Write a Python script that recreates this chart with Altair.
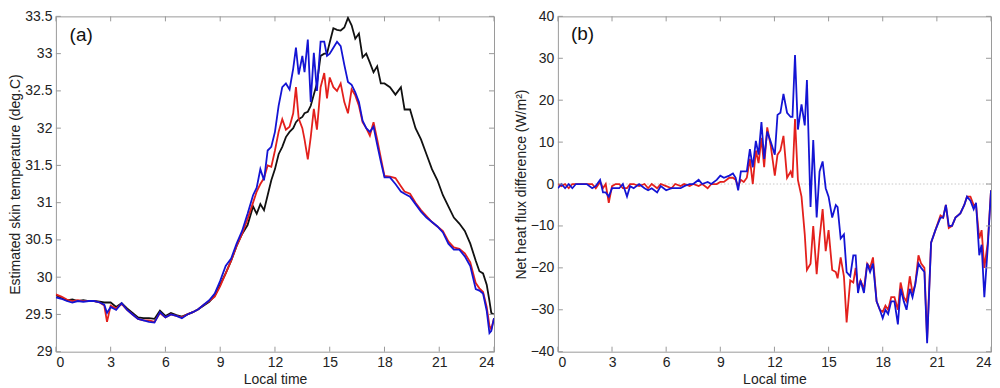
import altair as alt
import pandas as pd

# ---------------- Panel (a): estimated skin temperature ----------------
time_a = [0, 0.3, 0.6, 0.9, 1.2, 1.5, 1.8, 2.1, 2.4, 2.65,
          2.8, 3.0, 3.3, 3.6, 3.9, 4.2, 4.5, 4.8, 5.1, 5.4,
          5.7, 6.0, 6.3, 6.6, 6.9, 7.2, 7.5, 7.8, 8.1, 8.4,
          8.7, 9.0, 9.3, 9.6, 9.9, 10.2, 10.5, 10.8, 11.0, 11.2,
          11.4, 11.6, 11.8, 12.0, 12.2, 12.4, 12.6, 12.8, 13.0, 13.15,
          13.3, 13.5, 13.62, 13.8, 13.96, 14.13, 14.3, 14.5, 14.7, 14.85,
          15.0, 15.2, 15.4, 15.6, 15.8, 16.0, 16.2, 16.4, 16.6, 16.8,
          17.0, 17.2, 17.4, 17.6, 17.8, 18.0, 18.3, 18.6, 18.9, 19.1,
          19.4, 19.7, 20.0, 20.3, 20.6, 20.9, 21.2, 21.5, 21.8, 22.1,
          22.4, 22.7, 23.0, 23.2, 23.4, 23.6, 23.75, 23.85, 24.0]

temp_black = [29.76, 29.72, 29.69, 29.70, 29.68, 29.69, 29.68, 29.68, 29.67, 29.66,
              29.66, 29.66, 29.60, 29.65, 29.58, 29.52, 29.46, 29.45, 29.45, 29.44,
              29.55, 29.48, 29.52, 29.49, 29.47, 29.50, 29.53, 29.57, 29.62, 29.67,
              29.75, 29.90, 30.05, 30.22, 30.42, 30.58, 30.70, 30.95, 30.85, 30.98,
              30.90, 31.10, 31.30, 31.45, 31.65, 31.75, 31.88, 31.95, 32.00, 32.08,
              32.12, 32.15, 32.20, 32.22, 32.30, 32.45, 32.60, 32.97, 33.00, 33.00,
              33.15, 33.34, 33.32, 33.31, 33.35, 33.48, 33.38, 33.20, 33.27, 32.95,
              33.00, 32.88, 32.75, 32.83, 32.60, 32.60, 32.55, 32.45, 32.55, 32.25,
              32.25, 32.00, 31.85, 31.65, 31.45, 31.30, 31.10, 30.95, 30.80, 30.72,
              30.62, 30.45, 30.22, 30.08, 30.05, 29.90, 29.68, 29.52, 29.50]

temp_red = [29.77, 29.74, 29.70, 29.68, 29.69, 29.68, 29.68, 29.68, 29.66, 29.62,
            29.40, 29.62, 29.58, 29.64, 29.56, 29.50, 29.44, 29.42, 29.42, 29.40,
            29.52, 29.46, 29.50, 29.48, 29.46, 29.50, 29.53, 29.57, 29.63, 29.68,
            29.74, 29.88, 30.05, 30.22, 30.42, 30.58, 30.78, 31.00, 31.15, 31.25,
            31.33, 31.50, 31.48, 31.70, 31.95, 32.12, 31.98, 32.02, 32.20, 32.55,
            32.13, 32.00, 31.85, 31.58, 31.88, 32.26, 31.98, 32.55, 32.74, 32.40,
            32.68, 32.55, 32.50, 32.60, 32.35, 32.20, 32.52, 32.44, 32.30, 32.08,
            32.00, 31.90, 32.08, 31.85, 31.60, 31.36, 31.35, 31.33, 31.22, 31.15,
            31.12, 31.00, 30.90, 30.82, 30.74, 30.68, 30.62, 30.48, 30.40, 30.38,
            30.32, 30.20, 29.92, 29.85, 29.80, 29.60, 29.35, 29.30, 29.45]

temp_blue = [29.73, 29.71, 29.68, 29.66, 29.68, 29.67, 29.68, 29.68, 29.66, 29.63,
             29.52, 29.60, 29.56, 29.65, 29.56, 29.50, 29.44, 29.42, 29.40, 29.39,
             29.53, 29.46, 29.50, 29.48, 29.45, 29.50, 29.53, 29.57, 29.63, 29.69,
             29.78, 29.95, 30.15, 30.25, 30.45, 30.62, 30.85, 31.10, 31.20, 31.45,
             31.30, 31.70, 31.75, 31.95, 32.30, 32.55, 32.60, 32.52, 32.80, 33.08,
             32.72, 32.97, 32.75, 33.19, 32.35, 33.01, 32.50, 33.16, 33.16, 32.97,
             33.00, 33.08, 33.16, 33.10, 32.85, 32.62, 32.58, 32.48, 32.35, 32.10,
             32.00, 31.95, 32.02, 31.78, 31.55, 31.34, 31.34, 31.25, 31.15, 31.12,
             31.08, 30.98, 30.88, 30.80, 30.74, 30.68, 30.60, 30.45, 30.37, 30.37,
             30.28, 30.15, 29.84, 29.82, 29.78, 29.55, 29.25, 29.28, 29.45]

# ---------------- Panel (b): net heat flux difference ----------------
time_b = [0, 0.2, 0.4, 0.6, 0.8, 1.0, 1.3, 1.6, 1.9, 2.1,
          2.34, 2.5, 2.65, 2.82, 3.0, 3.2, 3.4, 3.6, 3.83, 4.0,
          4.2, 4.5, 4.8, 5.0, 5.2, 5.5, 5.7, 6.0, 6.3, 6.5,
          6.8, 7.0, 7.3, 7.5, 7.8, 8.0, 8.3, 8.5, 8.8, 9.0,
          9.2, 9.5, 9.7, 9.85, 9.99, 10.14, 10.3, 10.47, 10.64, 10.8,
          10.97, 11.12, 11.28, 11.43, 11.6, 11.8, 12.02, 12.17, 12.33, 12.5,
          12.7, 12.9, 13.0, 13.14, 13.3, 13.5, 13.68, 13.8, 14.0, 14.15,
          14.34, 14.5, 14.67, 14.84, 15.0, 15.2, 15.4, 15.5, 15.67, 15.85,
          16.0, 16.2, 16.37, 16.5, 16.63, 16.77, 16.96, 17.14, 17.3, 17.46,
          17.66, 17.84, 18.0, 18.15, 18.3, 18.47, 18.65, 18.84, 18.99, 19.17,
          19.32, 19.5, 19.65, 19.8, 19.98, 20.13, 20.31, 20.46, 20.68, 20.92,
          21.2, 21.35, 21.5, 21.66, 21.84, 22.03, 22.3, 22.52, 22.67, 22.86,
          23.04, 23.17, 23.35, 23.48, 23.63, 23.82, 24.0]

flux_red = [0, -0.5, 0, -1, 0, 0, 0, 0, 0, -1,
            0.5, -1, 0, -4.5, -0.5, 0, 0, -1, -1, 0,
            0, -0.5, 0, -1, 0, -1, 0, -0.5, -1, 0,
            -0.5, 0, -0.5, 0, -0.5, 0, -1, 0, 0, 0.5,
            0.5, 1.5, 1.5, 1, -0.5, 1, 0.5, 1.5, 6, 0,
            8, 5, 11, 4, 13.5, 9, 2, 7, 8, 11.5,
            1.5, 3, 1.5, 15.5, 1, -3, -12, -20.5, -19, -10,
            -21.5, -13, -6, -16, -11, -20.5, -21, -22.5, -17.5, -22,
            -33, -23, -23.5, -20, -25, -23, -25, -19, -20, -17.5,
            -28, -30, -30.5, -29, -30, -27, -27, -30, -23.5, -27,
            -28, -22, -26, -24, -17, -19, -20, -37, -14, -11,
            -7.5, -8, -5, -10.5, -10, -8, -7, -5, -3, -3,
            -5, -5, -13, -11, -20, -14, -1.5]

flux_blue = [-1, 0, -1, 0, -1, 0, 0, 0, -1, -0.5,
             1, -2, -2, -3, -1, -1, -1, 0, -3, -0.5,
             -1, 0, -1, -1.5, -1, -2, -0.5, -1.5, -1, -1,
             -1, -0.5, 0, 0, 1, 0, 0.5, 0, 1, 2,
             1.5, 2, 2.5, 1.5, -1.5, 3, 3, 3, 8.3, 4,
             10.3, 7, 14.8, 6, 12.5, 10, 7, 16.5, 17, 21.5,
             17, 16, 16, 30.8, 13, 19, 14, 24.8, -5.5, 10.5,
             -8, 3, 5.4, -1, -3, -8, -5, -5.5, -13, -12,
             -21, -22, -17, -17, -26, -23, -26, -19, -21, -19,
             -28, -30, -32, -30, -31, -28, -28, -33.5, -25, -28,
             -30, -25, -27, -24, -19, -20, -21, -38, -14, -11,
             -8, -8, -5, -10, -10, -8, -7, -5, -3, -4,
             -6, -4.5, -17, -14.5, -27, -15, -1.5]

x_ticks = [0, 3, 6, 9, 12, 15, 18, 21, 24]
y_ticks_a = [29, 29.5, 30, 30.5, 31, 31.5, 32, 32.5, 33, 33.5]
y_ticks_b = [-40, -30, -20, -10, 0, 10, 20, 30, 40]

BLACK = "#111111"
RED = "#e3201c"
BLUE = "#1414d4"
FRAME = "#9a9a9a"
LW = 1.8

W_A, W_B, H = 439, 434, 336
TICK = 5

df_a = pd.DataFrame({"t": time_a, "black": temp_black, "red": temp_red, "blue": temp_blue})
df_b = pd.DataFrame({"t": time_b, "red": flux_red, "blue": flux_blue})
df_xt = pd.DataFrame({"t": x_ticks})
df_yta = pd.DataFrame({"v": y_ticks_a})
df_ytb = pd.DataFrame({"v": y_ticks_b})


def panel(df, series, yticks_df, ydomain, yticks, ytitle, yfmt, width, label, label_pos, zero_line=False):
    xscale = alt.Scale(domain=[0, 24], nice=False, zero=False)
    yscale = alt.Scale(domain=ydomain, nice=False, zero=False)
    xaxis = alt.Axis(values=x_ticks, format="d", title="Local time")
    yaxis = alt.Axis(values=yticks, format=yfmt, title=ytitle)

    def X(f):
        return alt.X(f, type="quantitative", scale=xscale, axis=xaxis)

    def Y(f):
        return alt.Y(f, type="quantitative", scale=yscale, axis=yaxis)

    layers = []
    if zero_line:
        layers.append(
            alt.Chart(pd.DataFrame({"v": [0]})).mark_rule(
                color="#c8c8c8", strokeDash=[1.5, 2], strokeWidth=1
            ).encode(y=Y("v"))
        )
    for name, color in series:
        layers.append(
            alt.Chart(df).mark_line(color=color, strokeWidth=LW, clip=True).encode(
                x=X("t"), y=Y(name)
            )
        )
    # inward ticks (MATLAB style), on all four sides
    layers.append(alt.Chart(df_xt).mark_rule(color=FRAME, strokeWidth=1).encode(
        x=X("t"), y=alt.value(H), y2=alt.value(H - TICK)))
    layers.append(alt.Chart(df_xt).mark_rule(color=FRAME, strokeWidth=1).encode(
        x=X("t"), y=alt.value(0), y2=alt.value(TICK)))
    layers.append(alt.Chart(yticks_df).mark_rule(color=FRAME, strokeWidth=1).encode(
        y=Y("v"), x=alt.value(0), x2=alt.value(TICK)))
    layers.append(alt.Chart(yticks_df).mark_rule(color=FRAME, strokeWidth=1).encode(
        y=Y("v"), x=alt.value(width), x2=alt.value(width - TICK)))
    # panel label
    layers.append(
        alt.Chart(pd.DataFrame({"t": [label_pos[0]], "v": [label_pos[1]], "s": [label]}))
        .mark_text(align="left", baseline="middle", fontSize=19, font="Liberation Sans", color="#111")
        .encode(x=X("t"), y=Y("v"), text="s:N")
    )
    return alt.layer(*layers).properties(width=width, height=H)


left = panel(df_a, [("black", BLACK), ("red", RED), ("blue", BLUE)], df_yta, [29, 33.5],
             y_ticks_a, "Estimated skin temperature (deg.C)", ".1~f", W_A, "(a)", (0.75, 33.25))
right = panel(df_b, [("red", RED), ("blue", BLUE)], df_ytb, [-40, 40],
              y_ticks_b, "Net heat flux difference (W/m\u00b2)", "d", W_B, "(b)", (0.72, 35.8),
              zero_line=True)

chart = (
    alt.hconcat(left, right, spacing=18)
    .configure(padding={"left": 0, "top": 0, "right": 0, "bottom": 0}, background="white")
    .configure_view(stroke=FRAME, strokeWidth=1)
    .configure_axis(
        labelFont="Liberation Sans", labelFontSize=14, labelColor="#222",
        titleFont="Liberation Sans", titleFontSize=14, titleColor="#222", titleFontWeight="normal",
        ticks=False, domain=False, grid=False, labelPadding=4,
    )
    .configure_axisY(titlePadding=2)
    .configure_axisX(titlePadding=3)
)

chart.save("out.html", embed_options={"renderer": "svg", "actions": False})
